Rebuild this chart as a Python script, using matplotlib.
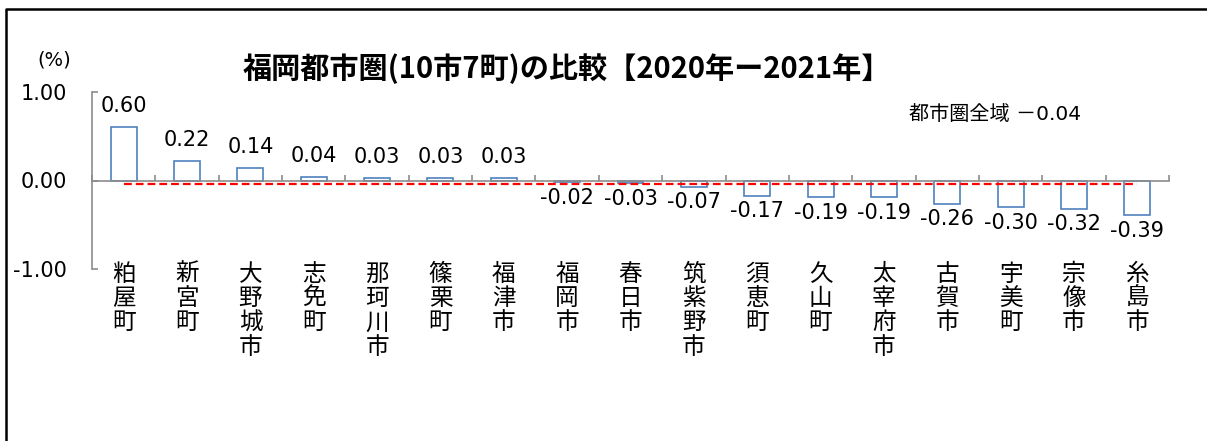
import matplotlib
matplotlib.use("Agg")
import matplotlib.pyplot as plt
from matplotlib.lines import Line2D

categories = ["粕屋町", "新宮町", "大野城市", "志免町", "那珂川市", "篠栗町", "福津市",
              "福岡市", "春日市", "筑紫野市", "須恵町", "久山町", "太宰府市", "古賀市",
              "宇美町", "宗像市", "糸島市"]
values = [0.60, 0.22, 0.14, 0.04, 0.03, 0.03, 0.03,
          -0.02, -0.03, -0.07, -0.17, -0.19, -0.19, -0.26,
          -0.30, -0.32, -0.39]
overall = -0.04
yticks = [1.00, 0.00, -1.00]
title = "福岡都市圏(10市7町)の比較【2020年ー2021年】"
overall_label = "都市圏全域 －0.04"

NUMF = ["DejaVu Sans", "Noto Sans CJK JP"]
CJKF = ["Noto Sans CJK JP", "DejaVu Sans"]
plt.rcParams["font.family"] = CJKF

W, H = 1207, 441
fig = plt.figure(figsize=(W / 100, H / 100), dpi=100)
fig.patch.set_facecolor("white")

def fx(px):
    return px / W

def fy(py):
    return 1 - py / H

ax = fig.add_axes([fx(92), fy(269), fx(1169) - fx(92), fy(92) - fy(269)])
ax.set_facecolor("none")

n = len(categories)
x = list(range(n))
ax.bar(x, values, width=0.41, facecolor="white", edgecolor="#4F81BD",
       linewidth=1.2, zorder=2)

ax.plot([0, n - 1], [overall, overall], color="#FF0000", linewidth=1.6,
        linestyle=(0, (3.5, 1.8)), zorder=3)

ax.set_xlim(-0.5, n - 0.5)
ax.set_ylim(-1, 1)

for s in ["top", "right"]:
    ax.spines[s].set_visible(False)
ax.spines["bottom"].set_position(("data", 0))
for s in ["left", "bottom"]:
    ax.spines[s].set_color("#8C8C8C")
    ax.spines[s].set_linewidth(1.2)

ax.set_yticks(yticks)
ax.set_yticklabels([f"{v:.2f}" for v in yticks], fontfamily=NUMF, fontsize=15)
ax.tick_params(axis="y", direction="in", length=4, width=1.2, color="#8C8C8C",
               pad=18, labelcolor="black")
ax.set_xticks([i - 0.5 for i in range(n + 1)])
ax.set_xticklabels([])
ax.tick_params(axis="x", direction="in", length=4, width=1.2, color="#8C8C8C")

for i, v in enumerate(values):
    if v >= 0:
        ax.annotate(f"{v:.2f}", (i, v), xytext=(0, 8), textcoords="offset points",
                    ha="center", va="bottom", fontsize=15, fontfamily=NUMF)
    else:
        ax.annotate(f"{v:.2f}", (i, v), xytext=(0, -4), textcoords="offset points",
                    ha="center", va="top", fontsize=15, fontfamily=NUMF)

for i, name in enumerate(categories):
    ax.text(i, -0.93, "\n".join(name), ha="center", va="top", fontsize=17,
            linespacing=1.07, fontfamily=CJKF)

fig.text(fx(567), fy(69), title, ha="center", va="center", fontsize=21,
         fontweight="bold", fontfamily=CJKF)
fig.text(fx(54), fy(60), "(%)", ha="center", va="center", fontsize=14,
         fontfamily=NUMF)
fig.text(fx(995), fy(114), overall_label, ha="center", va="center", fontsize=14.5,
         fontfamily=NUMF)

fig.add_artist(Line2D([fx(6), fx(6), 1.01], [-0.01, fy(9), fy(9)],
                      transform=fig.transFigure, color="black", linewidth=1.8))

fig.savefig("out.png", dpi=100)
